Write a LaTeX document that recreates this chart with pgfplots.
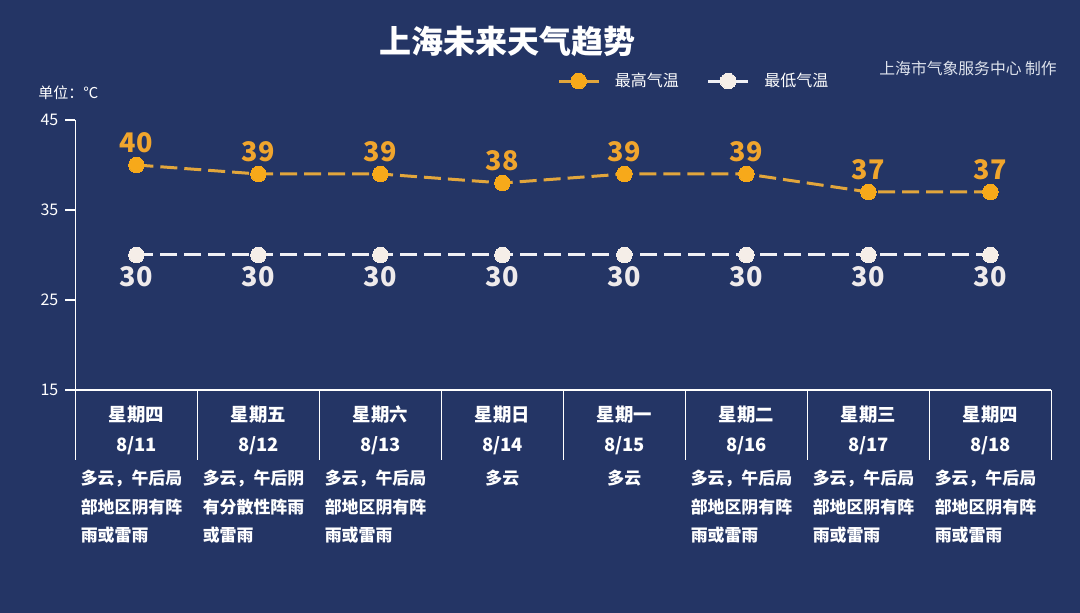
\documentclass[border=0pt]{standalone}
\usepackage{pgfplots}
\pgfplotsset{compat=1.18}
\usepackage{fontspec}
\setmainfont{Noto Sans CJK SC}

\definecolor{bg}{RGB}{36,53,101}
\definecolor{himark}{RGB}{247,169,26}
\definecolor{hiline}{RGB}{226,166,60}
\definecolor{hilab}{RGB}{240,165,45}
\definecolor{lomark}{RGB}{245,238,232}
\definecolor{loline}{RGB}{240,240,245}
\definecolor{lolab}{RGB}{238,234,235}
\definecolor{credit}{RGB}{221,226,236}

% day and date under a category
\newcommand{\cat}[3]{%
  \node[catlab,yshift=-16pt] at (axis cs:#1,15) {#2};
  \node[catlab,yshift=-31pt] at (axis cs:#1,15) {#3};}
% three lines of weather text, left edge of the cell given
\newcommand{\wx}[4]{%
  \node[wxlab,anchor=base west,xshift=2.5pt,yshift=-47.5pt] at (axis cs:#1,15) {#2};
  \node[wxlab,anchor=base west,xshift=2.5pt,yshift=-61.75pt] at (axis cs:#1,15) {#3};
  \node[wxlab,anchor=base west,xshift=2.5pt,yshift=-76pt] at (axis cs:#1,15) {#4};}

\begin{document}
\begin{tikzpicture}[
  catlab/.style={anchor=base,inner sep=0pt,text=white,font=\bfseries\fontsize{9.2}{11}\selectfont},
  wxlab/.style={inner sep=0pt,text=white,font=\bfseries\fontsize{8.45}{10}\selectfont}]
\fill[bg] (0,0) rectangle (540pt,306.5pt);

\node[anchor=base,inner sep=0pt,text=white,font=\bfseries\fontsize{16}{18}\selectfont]
  at (253.8pt,279.5pt) {上海未来天气趋势};
\node[anchor=base west,inner sep=0pt,text=white,font=\fontsize{7.5}{9}\selectfont]
  at (18.95pt,257pt) {单位：℃};
\node[anchor=base west,inner sep=0pt,text=credit,font=\fontsize{7.9}{9}\selectfont]
  at (439.5pt,269pt) {上海市气象服务中心 制作};

\begin{axis}[
    at={(37.7pt,111.5pt)}, anchor=south west,
    scale only axis,
    width=488pt, height=135pt,
    xmin=0.5, xmax=8.5,
    ymin=15, ymax=45,
    ytick={15,25,35,45},
    xtick=\empty,
    extra x ticks={0.5,1.5,2.5,3.5,4.5,5.5,6.5,7.5,8.5},
    extra x tick labels={},
    extra x tick style={major tick length=35pt},
    axis x line=bottom, axis y line=left,
    axis line style={draw=white,-,line width=0.6pt},
    tick style={draw=white,line width=0.6pt},
    major tick length=5pt,
    tick align=outside,
    yticklabel style={text=white,font=\fontsize{8}{10}\selectfont},
    /pgf/number format/assume math mode=true,
    clip=false,
    legend columns=2,
    legend style={at={(axis description cs:0.4935,1.1444)}, anchor=west,
      draw=none, fill=none, inner sep=0pt, text=white,
      font=\fontsize{8}{10}\selectfont,
      nodes={inner sep=0pt},
      /tikz/every odd column/.append style={column sep=7.4pt},
      /tikz/every even column/.append style={column sep=14pt}},
    legend image code/.code={%
      \draw[mark repeat=2,mark phase=2,#1,solid]
        plot coordinates {(0pt,0pt) (9.9pt,0pt) (19.8pt,0pt)};},
]

\addplot[
    color=hiline, line width=1.5pt,
    dash pattern=on 8.5pt off 3.5pt,
    mark=*, mark size=3.9pt,
    mark options={solid,draw=himark,fill=himark,line width=0pt},
    nodes near coords,
    every node near coord/.append style={anchor=base,yshift=6.35pt,inner sep=0pt,
      text=hilab,font=\bfseries\fontsize{13.5}{14}\selectfont},
    ]
    coordinates {
    (1,40)(2,39)(3,39)(4,38)(5,39)(6,39)(7,37)(8,37)
    };
    \addlegendentry{最高气温}

\addplot[
    color=loline, line width=1.5pt,
    dash pattern=on 8.5pt off 3.5pt,
    mark=*, mark size=3.9pt,
    mark options={solid,draw=lomark,fill=lomark,line width=0pt},
    nodes near coords,
    every node near coord/.append style={anchor=base,yshift=-15.6pt,inner sep=0pt,
      text=lolab,font=\bfseries\fontsize{13.5}{14}\selectfont},
    ]
    coordinates {
    (1,30)(2,30)(3,30)(4,30)(5,30)(6,30)(7,30)(8,30)
    };
    \addlegendentry{最低气温}

\cat{1}{星期四}{8/11}
\cat{2}{星期五}{8/12}
\cat{3}{星期六}{8/13}
\cat{4}{星期日}{8/14}
\cat{5}{星期一}{8/15}
\cat{6}{星期二}{8/16}
\cat{7}{星期三}{8/17}
\cat{8}{星期四}{8/18}

\wx{0.5}{多云，午后局}{部地区阴有阵}{雨或雷雨}
\wx{1.5}{多云，午后阴}{有分散性阵雨}{或雷雨}
\wx{2.5}{多云，午后局}{部地区阴有阵}{雨或雷雨}
\node[wxlab,anchor=base,yshift=-47.5pt] at (axis cs:4,15) {多云};
\node[wxlab,anchor=base,yshift=-47.5pt] at (axis cs:5,15) {多云};
\wx{5.5}{多云，午后局}{部地区阴有阵}{雨或雷雨}
\wx{6.5}{多云，午后局}{部地区阴有阵}{雨或雷雨}
\wx{7.5}{多云，午后局}{部地区阴有阵}{雨或雷雨}
\end{axis}
\pgfresetboundingbox
\useasboundingbox (0,0) rectangle (540pt,306.5pt);
\end{tikzpicture}
\end{document}
